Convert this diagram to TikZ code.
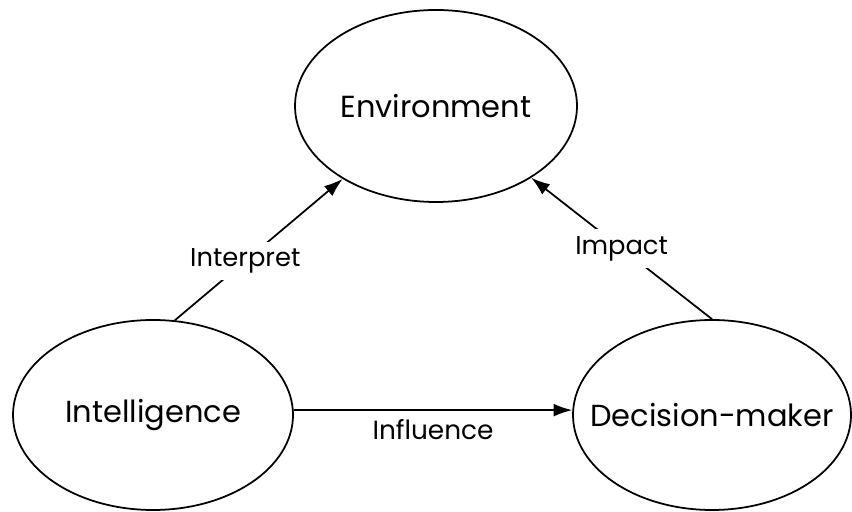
\documentclass[tikz,border=0pt]{standalone}
\usepackage{fontspec}
\setmainfont{Poppins}
\usepackage{tikz}
\usetikzlibrary{shapes.geometric, arrows.meta}

\begin{document}
\begin{tikzpicture}[
	blob/.style = {ellipse, draw, line width = 1.5pt, inner sep = 0pt,
		minimum width = 8.4cm, minimum height = 5.7cm,
		font = \fontsize{26}{30}\selectfont},
	lbl/.style = {fill = white, inner sep = 6pt, font = \fontsize{22}{26}\selectfont},
	link/.style = {line width = 1.5pt, -{Latex[length = 16pt, width = 11pt]}}]
		\useasboundingbox (0, 0) rectangle (25.56, 15.36);
		%%%%%%%%%%%%%
		\node[blob, minimum width = 8.46cm, minimum height = 5.76cm] (env) at (13.08, 12.18) {Environment};
		\node[blob] (int) at (4.59, 2.91) {Intelligence};
		\node[blob, minimum width = 8.34cm, inner xsep = -0.9cm] (dm) at (21.36, 2.91) {Decision-maker};
		%%%%%%%%%%%%%
		\draw [link] (int.77) to node[lbl, pos = 0.42] {Interpret} (env.218);
		\draw [link] (dm.90) to node[lbl, pos = 0.5] {Impact} (env.323);
		\draw [link] (int.2) to node[below = 4pt, font = \fontsize{22.5}{26}\selectfont] {Influence} (dm.178);
\end{tikzpicture}
\end{document}
